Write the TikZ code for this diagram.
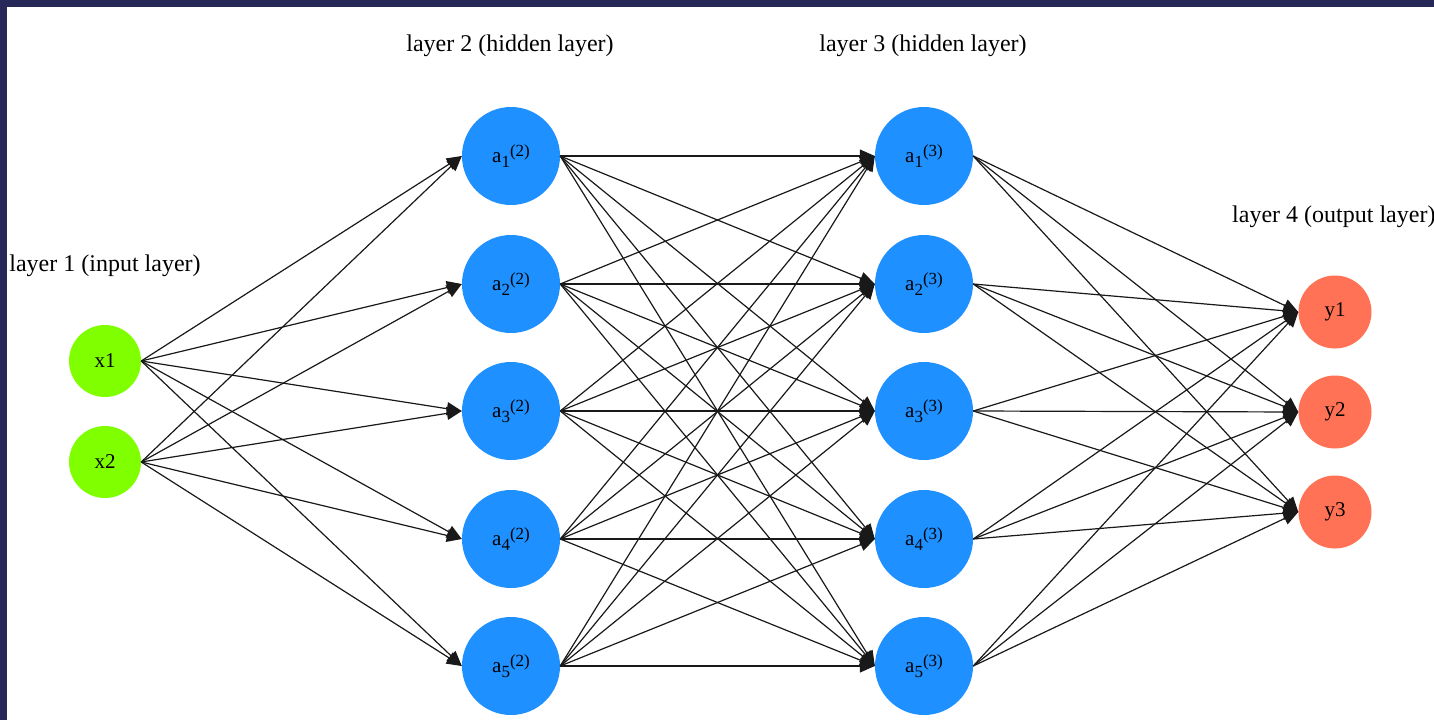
\documentclass[tikz,border=0pt]{standalone}
\usepackage{fontspec}
\setmainfont{Liberation Serif}
\usetikzlibrary{arrows.meta}
\definecolor{framecol}{HTML}{262857}
\definecolor{inputcol}{HTML}{7FFF00}
\definecolor{hiddencol}{HTML}{1E90FF}
\definecolor{outputcol}{HTML}{FF7256}
% unit label: a, then a lowered index, then a raised layer number
\newcommand{\unitlabel}[2]{a\raisebox{-5pt}{\fontsize{17}{17}\selectfont #1}\raisebox{6.5pt}{\fontsize{17}{17}\selectfont (#2)}}
\begin{document}
\begin{tikzpicture}[x=1pt,y=-1pt,
  neuron/.style={circle, inner sep=0pt, draw=none, font=\fontsize{21}{25}\selectfont},
  inneuron/.style={neuron, minimum size=72pt, fill=inputcol},
  hidneuron/.style={neuron, minimum size=98pt, fill=hiddencol},
  outneuron/.style={neuron, minimum size=73pt, fill=outputcol},
  link/.style={line width=1.2pt, black!90, -{Triangle[length=15pt,width=13pt]}},
  layerlabel/.style={font=\fontsize{24}{28}\selectfont, anchor=base, inner sep=0pt}]

% frame and canvas
\useasboundingbox (0,0) rectangle (1434,720);
\fill[framecol] (0,0) rectangle (1434,720);
\fill[white] (7,7) rectangle (1434,720);

% layer captions
\node[layerlabel] (cap1) at (105,271) {layer 1 (input layer)};
\node[layerlabel] (cap2) at (510,51) {layer 2 (hidden layer)};
\node[layerlabel] (cap3) at (923,51) {layer 3 (hidden layer)};
\node[layerlabel, anchor=base west] (cap4) at (1232,222) {layer 4 (output layer)};

% input layer
\node[inneuron] (x1) at (105,361) {x1};
\node[inneuron] (x2) at (105,462) {x2};

% hidden layers
\foreach \i/\yy in {1/156,2/284,3/411,4/539,5/666} {
  \node[hidneuron] (p\i) at (511,\yy) {\unitlabel{\i}{2}};
  \node[hidneuron] (q\i) at (924,\yy) {\unitlabel{\i}{3}};
}

% output layer
\node[outneuron] (y1) at (1335,312) {y1};
\node[outneuron] (y2) at (1335,412) {y2};
\node[outneuron] (y3) at (1335,512) {y3};

% connections
\foreach \s in {x1,x2} \foreach \t in {1,...,5}
  \draw[link] (\s.east) -- (p\t.west);
\foreach \s in {1,...,5} \foreach \t in {1,...,5}
  \draw[link] (p\s.east) -- (q\t.west);
\foreach \s in {1,...,5} \foreach \t in {y1,y2,y3}
  \draw[link] (q\s.east) -- (\t.west);
\end{tikzpicture}
\end{document}
